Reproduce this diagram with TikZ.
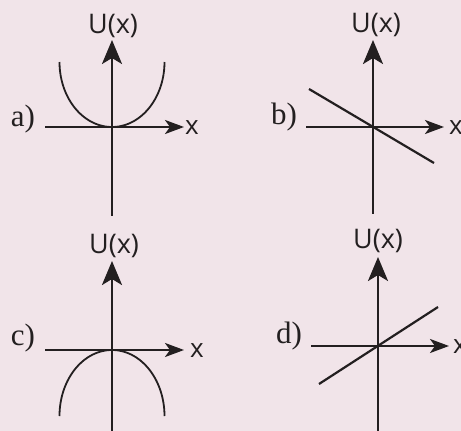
\documentclass[tikz,border=0pt]{standalone}
\usepackage{fontspec}
\setmainfont{Liberation Serif}
\newfontfamily\axfont{Open Sans}
\usetikzlibrary{arrows.meta}
\definecolor{bg}{HTML}{F1E4E9}
\definecolor{ink}{HTML}{231F20}
\tikzset{
  vaxis/.style={line width=2.6pt, draw=ink, -{Stealth[length=24pt, width=20pt, inset=6pt]}},
  haxis/.style={line width=2.2pt, draw=ink, -{Stealth[length=19pt, width=14pt, inset=5pt]}},
  plain/.style={line width=2.6pt, draw=ink},
  curve/.style={line width=1.8pt, draw=ink},
  ulabel/.style={font=\axfont\fontsize{27}{30}\selectfont, text=ink, inner sep=0pt},
  xlabel/.style={font=\axfont\fontsize{26}{29}\selectfont, text=ink, inner sep=0pt},
  plabel/.style={font=\fontsize{31}{34}\selectfont, text=ink, inner sep=0pt},
}
\begin{document}
\begin{tikzpicture}[x=1pt, y=-1pt]
\useasboundingbox[fill=bg] (0,0) rectangle (461,431);
% ---------- panel a
\coordinate (aO) at (112,127);
\coordinate (aT) at (112,40);
\coordinate (aB) at (112,216);
\coordinate (aL) at (45,127);
\coordinate (aR) at (184,127);
\draw[plain] (aO) -- (aB);
\draw[vaxis] (aO) -- (aT);
\draw[haxis] (aL) -- (aR);
\draw[curve] plot[domain=180:360, samples=80, smooth] ({112+52.5*cos(\x)}, {62-65*sin(\x)});
\node[ulabel] (aU) at (113,26) {U(x)};
\node[xlabel, anchor=west] (aX) at (185,128) {x};
\node[plabel] (aLab) at (23,119) {a)};
% ---------- panel b
\coordinate (bO) at (373,127);
\coordinate (bT) at (373,40);
\coordinate (bB) at (373,214);
\coordinate (bL) at (306,127);
\coordinate (bR) at (444,127);
\coordinate (bS) at (309,89);
\coordinate (bE) at (434,163);
\draw[plain] (bO) -- (bB);
\draw[vaxis] (bO) -- (bT);
\draw[haxis] (bL) -- (bR);
\draw[plain, line width=2.2pt] (bS) -- (bE);
\node[ulabel] (bU) at (376,25) {U(x)};
\node[xlabel, anchor=west] (bX) at (449,128) {x};
\node[plabel] (bLab) at (284,117) {b)};
% ---------- panel c
\coordinate (cO) at (112,350);
\coordinate (cT) at (112,261);
\coordinate (cB) at (112,431);
\coordinate (cL) at (45,350);
\coordinate (cR) at (184,350);
\draw[plain] (cO) -- (cB);
\draw[vaxis] (cO) -- (cT);
\draw[haxis] (cL) -- (cR);
\draw[curve] plot[domain=0:180, samples=80, smooth] ({112+52.5*cos(\x)}, {416-66*sin(\x)});
\node[ulabel] (cU) at (114,246) {U(x)};
\node[xlabel, anchor=west] (cX) at (190,351) {x};
\node[plabel] (cLab) at (23,338) {c)};
% ---------- panel d
\coordinate (dO) at (378,346);
\coordinate (dT) at (378,257);
\coordinate (dB) at (378,431);
\coordinate (dL) at (311,346);
\coordinate (dR) at (449,346);
\coordinate (dS) at (319,384);
\coordinate (dE) at (438,307);
\draw[plain] (dO) -- (dB);
\draw[vaxis] (dO) -- (dT);
\draw[haxis] (dL) -- (dR);
\draw[plain, line width=2.2pt] (dS) -- (dE);
\node[ulabel] (dU) at (378,241) {U(x)};
\node[xlabel, anchor=west] (dX) at (453,347) {x};
\node[plabel] (dLab) at (289,336) {d)};
\end{tikzpicture}
\end{document}
